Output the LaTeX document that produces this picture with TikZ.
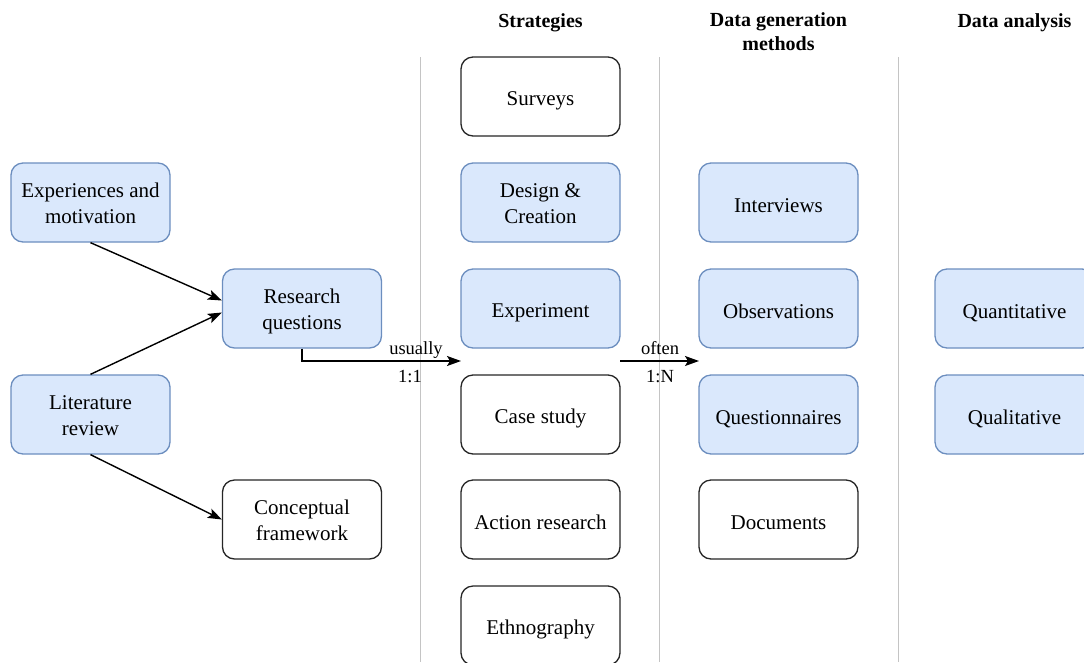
\documentclass[tikz,border=0pt]{standalone}
\usepackage{fontspec}
\setmainfont{Liberation Serif}
\usetikzlibrary{arrows.meta}
\definecolor{bluefill}{HTML}{DAE8FC}
\definecolor{bluedraw}{HTML}{6C8EBF}
\definecolor{sepgray}{HTML}{C4C4C4}
\begin{document}
\begin{tikzpicture}[x=1pt,y=-1pt,
  box/.style={rounded corners=12pt, line width=1.3pt, draw=black!85, fill=white,
    minimum width=159pt, minimum height=79pt, align=center, inner sep=2pt,
    font=\fontsize{21}{26}\selectfont,
    execute at begin node={\rule{0pt}{23pt}},
    execute at end node={\rule[-4pt]{0pt}{0pt}}},
  bluebox/.style={box, draw=bluedraw, fill=bluefill},
  % two-line labels: the strut spans both lines
  twoline/.style={execute at begin node={\rule{0pt}{46pt}},
    execute at end node={}},
  header/.style={align=center, font=\fontsize{20}{24}\selectfont\bfseries},
  sep/.style={draw=sepgray, line width=1pt},
  link/.style={line width=1.4pt, -{Stealth[length=14pt, width=10pt, inset=3pt]}},
  lbl/.style={font=\fontsize{18.5}{22}\selectfont, inner sep=1pt}]
\useasboundingbox (0,0) rectangle (1084,662);

% column separators
\coordinate (s1t) at (420,57);  \coordinate (s1b) at (420,662);
\coordinate (s2t) at (659,57);  \coordinate (s2b) at (659,662);
\coordinate (s3t) at (898,57);  \coordinate (s3b) at (898,662);
\draw[sep] (s1t) -- (s1b);
\draw[sep] (s2t) -- (s2b);
\draw[sep] (s3t) -- (s3b);

% column headings
\node[header] (hstrat) at (540.5,23) {Strategies};
\node[header] (hdata) at (778.5,32) {Data generation\\methods};
\node[header] (hana) at (1014.5,23) {Data analysis};

% research design
\node[bluebox, twoline] (exp) at (90.5,202.5) {Experiences and\\motivation};
\node[bluebox, twoline] (lit) at (90.5,414.5) {Literature\\review};
\node[bluebox, twoline] (rq) at (302,308.5) {Research\\questions};
\node[box, twoline] (cf) at (302,519.5) {Conceptual\\framework};

% strategies
\node[box] (surv) at (540.5,96.5) {Surveys};
\node[bluebox, twoline] (dc) at (540.5,202.5) {Design \&\\Creation};
\node[bluebox] (expt) at (540.5,308.5) {Experiment};
\node[box] (cs) at (540.5,414.5) {Case study};
\node[box] (ar) at (540.5,519.5) {Action research};
\node[box] (eth) at (540.5,625.5) {Ethnography};

% data generation methods
\node[bluebox] (int) at (778.5,202.5) {Interviews};
\node[bluebox] (obs) at (778.5,308.5) {Observations};
\node[bluebox] (quest) at (778.5,414.5) {Questionnaires};
\node[box] (doc) at (778.5,519.5) {Documents};

% data analysis
\node[bluebox] (quant) at (1014.5,308.5) {Quantitative};
\node[bluebox] (qual) at (1014.5,414.5) {Qualitative};

% connectors
\draw[link] (exp.south) -- ([yshift=8pt]rq.west);
\draw[link] (lit.north) -- ([yshift=-4pt]rq.west);
\draw[link] (lit.south) -- (cf.west);

\coordinate (bend) at (302,361);
\coordinate (strin) at (461,361);
\coordinate (strout) at (620,361);
\coordinate (datin) at (699,361);
\draw[link] (rq.south) -- (bend) -- (strin);
\draw[link] (strout) -- (datin);

% edge labels
\node[lbl] (usually) at (416,350) {usually};
\node[lbl] (one) at (410,377) {1:1};
\node[lbl] (often) at (660,348) {often};
\node[lbl] (oneN) at (660,377) {1:N};
\end{tikzpicture}
\end{document}
